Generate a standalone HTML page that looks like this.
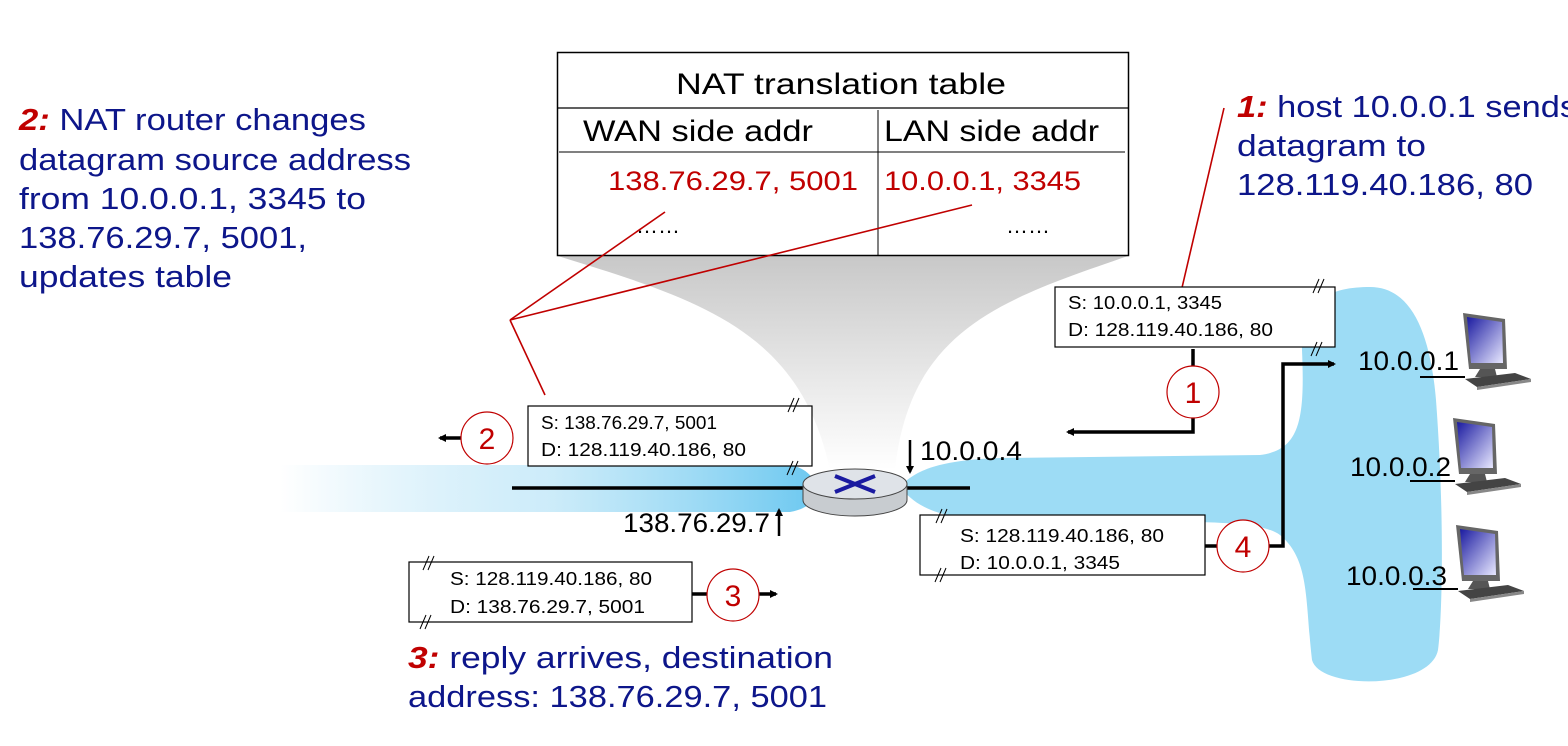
<!DOCTYPE html>
<html><head><meta charset="utf-8"><style>
body{margin:0;background:#fff;}
svg{display:block;font-family:"Liberation Sans",sans-serif;}
.b{fill:#0d168a;font-size:31px;}
.r{fill:#c00000;}
.p{font-size:18px;fill:#000;}
.k{font-size:27px;fill:#000;}
</style></head><body>
<svg width="1568" height="746" viewBox="0 0 1568 746" xmlns="http://www.w3.org/2000/svg">
<defs>
<linearGradient id="lg" x1="0" x2="1" y1="0" y2="0">
<stop offset="0" stop-color="#9ad8f3" stop-opacity="0"/>
<stop offset="0.5" stop-color="#b8e4f7" stop-opacity="0.7"/>
<stop offset="1" stop-color="#6cc8f0"/>
</linearGradient>
<linearGradient id="gg" x1="0" x2="0" y1="0" y2="1">
<stop offset="0" stop-color="#c8c8c8"/>
<stop offset="0.6" stop-color="#eaeaea"/>
<stop offset="1" stop-color="#ffffff"/>
</linearGradient>
<linearGradient id="scr" x1="0" x2="1" y1="0" y2="1">
<stop offset="0" stop-color="#1a1aa0"/><stop offset="1" stop-color="#e8e8ff"/>
</linearGradient>
<marker id="ah" markerWidth="8" markerHeight="8" refX="6" refY="4" orient="auto" markerUnits="userSpaceOnUse"><path d="M0,0 L8,4 L0,8z" fill="#000"/></marker>
<g id="pc">
<path d="M8,0 L50,6 L52,56 L14,56 Z" fill="#666"/>
<path d="M12,4 L47,9 L48,50 L16,50 Z" fill="url(#scr)"/>
<path d="M25,56 L40,56 L42,64 L20,64Z" fill="#555"/>
<path d="M10,66 L60,60 L76,66 L22,74 Z" fill="#444"/>
<path d="M22,74 L76,66 L76,69 L22,77Z" fill="#888"/>
</g>
</defs>

<path d="M558,256 L1128,256 C1000,300 910,330 895,470 L830,470 C800,330 700,300 558,256Z" fill="url(#gg)"/>

<path d="M280,465 L790,465 C820,470 830,505 790,512 L280,512Z" fill="url(#lg)"/>
<path d="M900,487 C915,470 940,460 1000,458 L1260,455 C1300,450 1305,420 1302,350 C1300,300 1330,287 1370,287 C1410,287 1430,330 1436,400 C1445,520 1442,620 1438,650 C1430,690 1320,690 1312,660 C1305,600 1310,560 1280,535 C1260,520 1200,522 1100,521 L960,518 C930,512 915,505 900,487Z" fill="#9ddcf5"/>

<rect x="557.5" y="52.5" width="571" height="203" fill="#fff" stroke="#000" stroke-width="1.5"/>
<line x1="557" y1="108" x2="1129" y2="108" stroke="#000" stroke-width="1.2"/>
<line x1="559" y1="152" x2="1125" y2="152" stroke="#000" stroke-width="1"/>
<line x1="878" y1="110" x2="878" y2="255" stroke="#000" stroke-width="1"/>
<text x="676" y="94" style="font-size:30px" textLength="330" lengthAdjust="spacingAndGlyphs">NAT translation table</text>
<text x="583" y="141" style="font-size:30px" textLength="230" lengthAdjust="spacingAndGlyphs">WAN side addr</text>
<text x="884" y="141" style="font-size:30px" textLength="215" lengthAdjust="spacingAndGlyphs">LAN side addr</text>
<text x="608" y="190" class="r" style="font-size:27px" textLength="250" lengthAdjust="spacingAndGlyphs">138.76.29.7, 5001</text>
<text x="884" y="190" class="r" style="font-size:27px" textLength="197" lengthAdjust="spacingAndGlyphs">10.0.0.1, 3345</text>
<text x="636" y="233" style="font-size:22px">……</text>
<text x="1006" y="233" style="font-size:22px">……</text>

<g stroke="#c00000" stroke-width="1.6" fill="none">
<line x1="510" y1="320" x2="665" y2="212"/>
<line x1="510" y1="320" x2="972" y2="205"/>
<line x1="510" y1="320" x2="545" y2="395"/>
<line x1="1224" y1="108" x2="1181" y2="292"/>
</g>

<text class="b" x="19" y="130" textLength="347" lengthAdjust="spacingAndGlyphs"><tspan class="r" font-weight="bold" font-style="italic">2:</tspan> NAT router changes</text>
<text class="b" x="19" y="170" textLength="392" lengthAdjust="spacingAndGlyphs">datagram source address</text>
<text class="b" x="19" y="209" textLength="347" lengthAdjust="spacingAndGlyphs">from 10.0.0.1, 3345 to</text>
<text class="b" x="19" y="248" textLength="288" lengthAdjust="spacingAndGlyphs">138.76.29.7, 5001,</text>
<text class="b" x="19" y="287" textLength="213" lengthAdjust="spacingAndGlyphs">updates table</text>
<text class="b" x="1237" y="117" textLength="340" lengthAdjust="spacingAndGlyphs"><tspan class="r" font-weight="bold" font-style="italic">1:</tspan> host 10.0.0.1 sends</text>
<text class="b" x="1237" y="156" textLength="189" lengthAdjust="spacingAndGlyphs">datagram to</text>
<text class="b" x="1237" y="195" textLength="296" lengthAdjust="spacingAndGlyphs">128.119.40.186, 80</text>
<text class="b" x="408" y="668" textLength="425" lengthAdjust="spacingAndGlyphs"><tspan class="r" font-weight="bold" font-style="italic">3:</tspan> reply arrives, destination</text>
<text class="b" x="408" y="707" textLength="419" lengthAdjust="spacingAndGlyphs">address: 138.76.29.7, 5001</text>

<g fill="#fff" stroke="#000" stroke-width="1.2">
<rect x="1055" y="287" width="280" height="60"/>
<rect x="528" y="406" width="284" height="60"/>
<rect x="409" y="562" width="283" height="60"/>
<rect x="920" y="515" width="285" height="60"/>
</g>
<text class="p" x="1068" y="309" textLength="154" lengthAdjust="spacingAndGlyphs">S: 10.0.0.1, 3345</text>
<text class="p" x="1068" y="336" textLength="205" lengthAdjust="spacingAndGlyphs">D: 128.119.40.186, 80</text>
<text class="p" x="541" y="429" textLength="176" lengthAdjust="spacingAndGlyphs">S: 138.76.29.7, 5001</text>
<text class="p" x="541" y="456" textLength="205" lengthAdjust="spacingAndGlyphs">D: 128.119.40.186, 80</text>
<text class="p" x="450" y="585" textLength="202" lengthAdjust="spacingAndGlyphs">S: 128.119.40.186, 80</text>
<text class="p" x="450" y="613" textLength="195" lengthAdjust="spacingAndGlyphs">D: 138.76.29.7, 5001</text>
<text class="p" x="960" y="542" textLength="204" lengthAdjust="spacingAndGlyphs">S: 128.119.40.186, 80</text>
<text class="p" x="960" y="569" textLength="160" lengthAdjust="spacingAndGlyphs">D: 10.0.0.1, 3345</text>
<g stroke="#000" stroke-width="1">
<path d="M1313,293 l6,-14 M1318,293 l6,-14"/>
<path d="M1311,356 l6,-14 M1316,356 l6,-14"/>
<path d="M788,412 l6,-14 M793,412 l6,-14"/>
<path d="M787,475 l6,-14 M792,475 l6,-14"/>
<path d="M423,570 l6,-14 M428,570 l6,-14"/>
<path d="M420,629 l6,-14 M425,629 l6,-14"/>
<path d="M936,523 l6,-14 M941,523 l6,-14"/>
<path d="M935,582 l6,-14 M940,582 l6,-14"/>
</g>

<g stroke="#000" stroke-width="3.5" fill="none">
<line x1="1193" y1="349" x2="1193" y2="366"/>
<polyline points="1193,418 1193,432 1068,432" marker-end="url(#ah)"/>
<line x1="512" y1="438" x2="500" y2="438"/>
<line x1="461" y1="438" x2="440" y2="438" marker-end="url(#ah)"/>
<line x1="692" y1="594" x2="707" y2="594"/>
<line x1="759" y1="594" x2="776" y2="594" marker-end="url(#ah)"/>
<line x1="1205" y1="546" x2="1217" y2="546"/>
<polyline points="1269,546 1283,546 1283,364 1334,364" marker-end="url(#ah)"/>
<line x1="512" y1="488" x2="970" y2="488"/>
</g>
<g stroke="#000" stroke-width="2.5">
<line x1="910" y1="440" x2="910" y2="472" marker-end="url(#ah)"/>
<line x1="779" y1="536" x2="779" y2="510" marker-end="url(#ah)"/>
</g>
<text class="k" x="920" y="460" textLength="102" lengthAdjust="spacingAndGlyphs">10.0.0.4</text>
<text class="k" x="623" y="532" textLength="147" lengthAdjust="spacingAndGlyphs">138.76.29.7</text>

<g fill="#fff" stroke="#c00000" stroke-width="1.2">
<circle cx="1193" cy="392" r="26"/>
<circle cx="487" cy="438" r="26"/>
<circle cx="733" cy="595" r="26"/>
<circle cx="1243" cy="546" r="26"/>
</g>
<g class="r" style="font-size:30px" text-anchor="middle">
<text x="1193" y="403">1</text><text x="487" y="449">2</text><text x="733" y="606">3</text><text x="1243" y="557">4</text>
</g>

<path d="M803,484 L803,500 A52,16 0 0 0 907,500 L907,484Z" fill="#c8ccd0" stroke="#444" stroke-width="1"/>
<ellipse cx="855" cy="484" rx="52" ry="15" fill="#dfe3e8" stroke="#444" stroke-width="1"/>
<g stroke="#1a1aa0" stroke-width="4">
<line x1="835" y1="476" x2="875" y2="492"/><line x1="835" y1="492" x2="875" y2="476"/>
</g>

<text class="k" x="1358" y="370" textLength="101" lengthAdjust="spacingAndGlyphs">10.0.0.1</text>
<text class="k" x="1350" y="476" textLength="101" lengthAdjust="spacingAndGlyphs">10.0.0.2</text>
<text class="k" x="1346" y="585" textLength="101" lengthAdjust="spacingAndGlyphs">10.0.0.3</text>
<g stroke="#000" stroke-width="2">
<line x1="1420" y1="377" x2="1465" y2="377"/>
<line x1="1410" y1="481" x2="1455" y2="481"/>
<line x1="1413" y1="589" x2="1458" y2="589"/>
</g>
<use href="#pc" x="1455" y="313"/>
<use href="#pc" x="1445" y="418"/>
<use href="#pc" x="1448" y="525"/>
</svg>
</body></html>
